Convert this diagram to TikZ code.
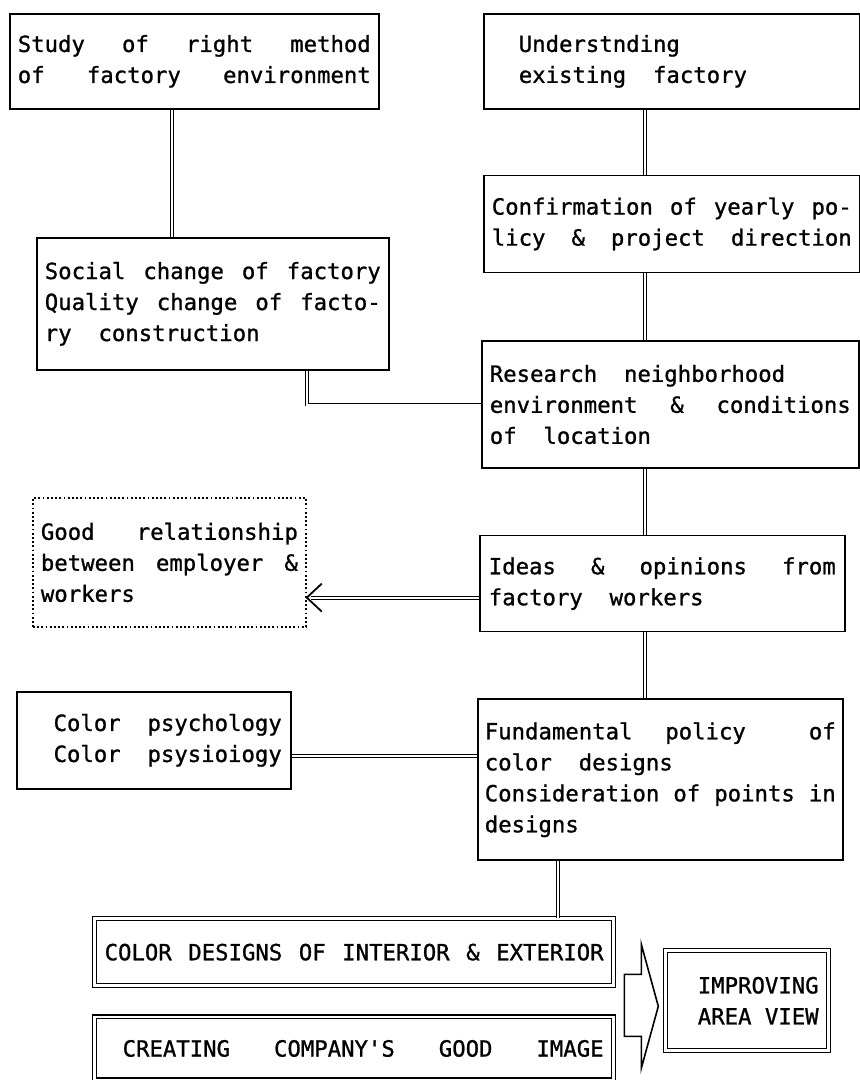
\documentclass[tikz,border=0pt]{standalone}
\usepackage{fontspec}
\newfontfamily\mono[FakeBold=1]{DejaVu Sans Mono}
\newcommand\tsp{\hspace{13.42pt}}
\usetikzlibrary{positioning}

\begin{document}
\begin{tikzpicture}[
  x=1pt, y=-1pt,
  font=\mono\fontsize{22.3}{31}\selectfont,
  box/.style={draw, line width=1.6pt, anchor=north west, align=left,
              inner xsep=8pt, inner ysep=3pt},
  dbox/.style={box, double, line width=1.3pt, double distance=2.4pt},
  dotbox/.style={box, line width=1.8pt, dash pattern=on 1.8pt off 2.4pt},
  link/.style={double, line width=0.9pt, double distance=2pt},
  barb/.style={line width=1.8pt},
  bigarrow/.style={draw, line width=1.6pt, line join=miter}
]
\fill[white] (0,0) rectangle (860,1080);
\useasboundingbox (0,0) rectangle (860,1080);

% left column
\node[box, minimum width=369pt, minimum height=95pt, text width=353pt] (study) at (9,13)
  {Study\hfill of\hfill right\hfill method\\of\hfill factory\hfill environment};
\node[box, minimum width=352pt, minimum height=132pt, text width=336pt] (social) at (36,237)
  {Social\hfill change\hfill of\hfill factory\\Quality\hfill change\hfill of\hfill facto-\\ry\tsp\tsp construction};
\node[dotbox, minimum width=273pt, minimum height=129pt, text width=257pt] (goodrel) at (32,497)
  {Good\hfill relationship\\between\hfill employer\hfill\&\\workers};
\node[box, align=right, inner xsep=9pt, minimum width=274pt, minimum height=97pt, text width=256pt] (psych) at (16,691)
  {Color\tsp\tsp psychology\\Color\tsp\tsp psysioiogy};

% right column
\node[box, inner xsep=35pt, minimum width=376pt, minimum height=95pt, text width=306pt] (exist) at (483,13)
  {Understnding\\existing\tsp\tsp factory};
\node[box, below=65pt of exist.south west, anchor=north west,
      minimum width=376pt, minimum height=97pt, text width=360pt] (yearly)
  {Confirmation\hfill of\hfill yearly\hfill po-\\licy\hfill\&\hfill project\hfill direction};
\node[box, below=67pt of yearly.south west, anchor=north west, xshift=-2pt,
      minimum width=377pt, minimum height=127pt, text width=361pt] (research)
  {Research\tsp\tsp neighborhood\\environment\hfill\&\hfill conditions\\of\tsp\tsp location};
\node[box, below=66pt of research.south west, anchor=north west, xshift=-2pt, inner xsep=9pt,
      minimum width=365pt, minimum height=96pt, text width=347pt] (ideas)
  {Ideas\hfill\&\hfill opinions\hfill from\\factory\tsp\tsp workers};
\node[box, below=66pt of ideas.south west, anchor=north west, xshift=-2pt, inner xsep=7pt,
      minimum width=365pt, minimum height=161pt, text width=351pt] (policy)
  {Fundamental\tsp\tsp\hspace{6pt}policy\hfill of\\color\tsp\tsp designs\\Consideration\hfill of\hfill points\hfill in\\designs};

% results
\node[dbox, inner xsep=10pt, minimum width=519pt, minimum height=67pt, text width=499pt] (designs) at (94,918)
  {COLOR\hfill DESIGNS\hfill OF\hfill INTERIOR\hfill\&\hfill EXTERIOR};
\node[dbox, below=30pt of designs.south west, anchor=north west, inner xsep=10pt,
      minimum width=519pt, minimum height=63pt, text width=499pt] (image)
  {\hspace*{18pt}CREATING\hfill COMPANY'S\hfill GOOD\hfill IMAGE};
\node[dbox, align=right, inner xsep=10pt, minimum width=163pt, minimum height=100pt, text width=143pt] (improve) at (665,950)
  {IMPROVING\\AREA\tsp VIEW};

% connectors
\coordinate (spine) at (645,0);
\draw[link] (exist.south -| spine) -- (yearly.north -| spine);
\draw[link] (yearly.south -| spine) -- (research.north -| spine);
\draw[link] (research.south -| spine) -- (ideas.north -| spine);
\draw[link] (ideas.south -| spine) -- (policy.north -| spine);

\coordinate (sc) at ([xshift=-22pt]study.south);
\draw[link] (sc) -- (sc |- social.north);
\coordinate (sr) at ([xshift=-83pt]social.south east);
\draw[link] (sr) |- (research.west);

\coordinate (ig) at ([yshift=-14pt]ideas.west);
\coordinate (gt) at (ig -| goodrel.east);
\draw[link] (ig) -- ([xshift=4pt]gt);
\draw[barb] ([shift={(15,-14)}]gt) -- (gt) -- ([shift={(15,14)}]gt);

\coordinate (pp) at ([yshift=-16pt]psych.east);
\draw[link] (pp) -- (pp -| policy.west);
\coordinate (pd) at ([xshift=81pt]policy.south west);
\draw[link] (pd) -- (pd |- designs.north);

% big arrow to the result
\coordinate (arr) at ([shift={(10,19)}]designs.south east);
\draw[bigarrow] (arr) ++(0,-31) -- ++(17,0) -- ++(0,-30) -- ++(17,62)
  -- ++(-17,62) -- ++(0,-32) -- ++(-17,0) -- cycle;
\end{tikzpicture}
\end{document}
